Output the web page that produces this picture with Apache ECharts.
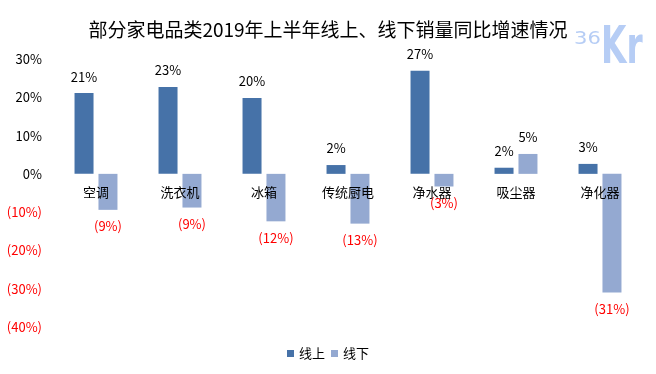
<!DOCTYPE html>
<html>
<head>
<meta charset="utf-8">
<script src="https://cdn.jsdelivr.net/npm/echarts@6/dist/echarts.min.js"></script>
<style>html,body{margin:0;padding:0;background:#fff}#c{width:656px;height:374px}</style>
</head>
<body>
<div id="c"></div>
<script>
var titleText = '部分家电品类2019年上半年线上、线下销量同比增速情况';
var categories = ['空调', '洗衣机', '冰箱', '传统厨电', '净水器', '吸尘器', '净化器'];
var seriesNames = ['线上', '线下'];
var onlineValues = [21.1, 22.7, 19.8, 2.3, 26.9, 1.6, 2.6];
var offlineValues = [-9.4, -8.8, -12.4, -13.0, -3.3, 5.2, -31.0];
var yTicks = [-40, -30, -20, -10, 0, 10, 20, 30];

var FONT = '"Noto Sans CJK SC", "Noto Sans", sans-serif';
var GRID = { left: 54, right: 14, top: 59, bottom: 47 };
var H = 374;
var yMin = yTicks[0], yMax = yTicks[yTicks.length - 1];
var gridH = H - GRID.top - GRID.bottom;
var zeroOffset = -gridH * (0 - yMin) / (yMax - yMin);

function pct(v) {
  var r = Math.round(Math.abs(v));
  return v < 0 ? '(' + r + '%)' : r + '%';
}
function mkData(arr) {
  return arr.map(function (v) {
    return {
      value: v,
      label: {
        position: v < 0 ? 'bottom' : 'top',
        color: v < 0 ? '#ff0000' : '#000000'
      }
    };
  });
}
var chart = echarts.init(document.getElementById('c'));
chart.setOption({
  animation: false,
  textStyle: { fontFamily: FONT },
  title: {
    text: titleText,
    left: 'center',
    top: 15,
    textStyle: { fontFamily: FONT, fontSize: 19, fontWeight: 'normal', color: '#000' }
  },
  graphic: [
    { type: 'text', x: 574, y: 30, scaleX: 1.3, style: { text: '36', fontSize: 18, fontFamily: 'DejaVu Sans Condensed', fill: '#b6cdf5' } },
    { type: 'text', x: 601, y: 23, scaleX: 0.7, style: { text: 'Kr', fontSize: 52, fontWeight: 'bold', fontFamily: 'DejaVu Sans Condensed', fill: '#b6cdf5' } }
  ],
  legend: {
    data: seriesNames,
    bottom: 9,
    left: 'center',
    itemWidth: 7,
    itemHeight: 7,
    itemGap: 6,
    icon: 'rect',
    textStyle: { fontFamily: FONT, fontSize: 13, color: '#000' }
  },
  grid: { left: GRID.left, right: GRID.right, top: GRID.top, bottom: GRID.bottom, containLabel: false },
  xAxis: {
    type: 'category',
    data: categories,
    position: 'bottom',
    offset: zeroOffset,
    z: 10,
    axisLine: { show: false, onZero: false },
    axisTick: { show: false },
    axisLabel: { margin: 12, fontSize: 13, color: '#000', fontFamily: FONT }
  },
  yAxis: {
    type: 'value',
    min: yMin,
    max: yMax,
    interval: 10,
    splitLine: { show: false },
    axisLine: { show: false },
    axisTick: { show: false },
    axisLabel: {
      margin: 12,
      fontSize: 13,
      fontFamily: FONT,
      formatter: function (v) { return pct(v); },
      color: function (v) { return Number(v) < 0 ? '#ff0000' : '#000000'; }
    }
  },
  series: [
    {
      name: seriesNames[0], type: 'bar', barWidth: 19, barGap: '26%', z: 2,
      itemStyle: { color: '#4672a8' },
      label: { show: true, distance: 10, fontSize: 13, fontFamily: FONT, formatter: function (p) { return pct(p.value); } },
      data: mkData(onlineValues)
    },
    {
      name: seriesNames[1], type: 'bar', barWidth: 19, barGap: '26%', z: 2,
      itemStyle: { color: '#94a9d1' },
      label: { show: true, distance: 10, fontSize: 13, fontFamily: FONT, formatter: function (p) { return pct(p.value); } },
      data: mkData(offlineValues)
    }
  ]
});
</script>
</body>
</html>
